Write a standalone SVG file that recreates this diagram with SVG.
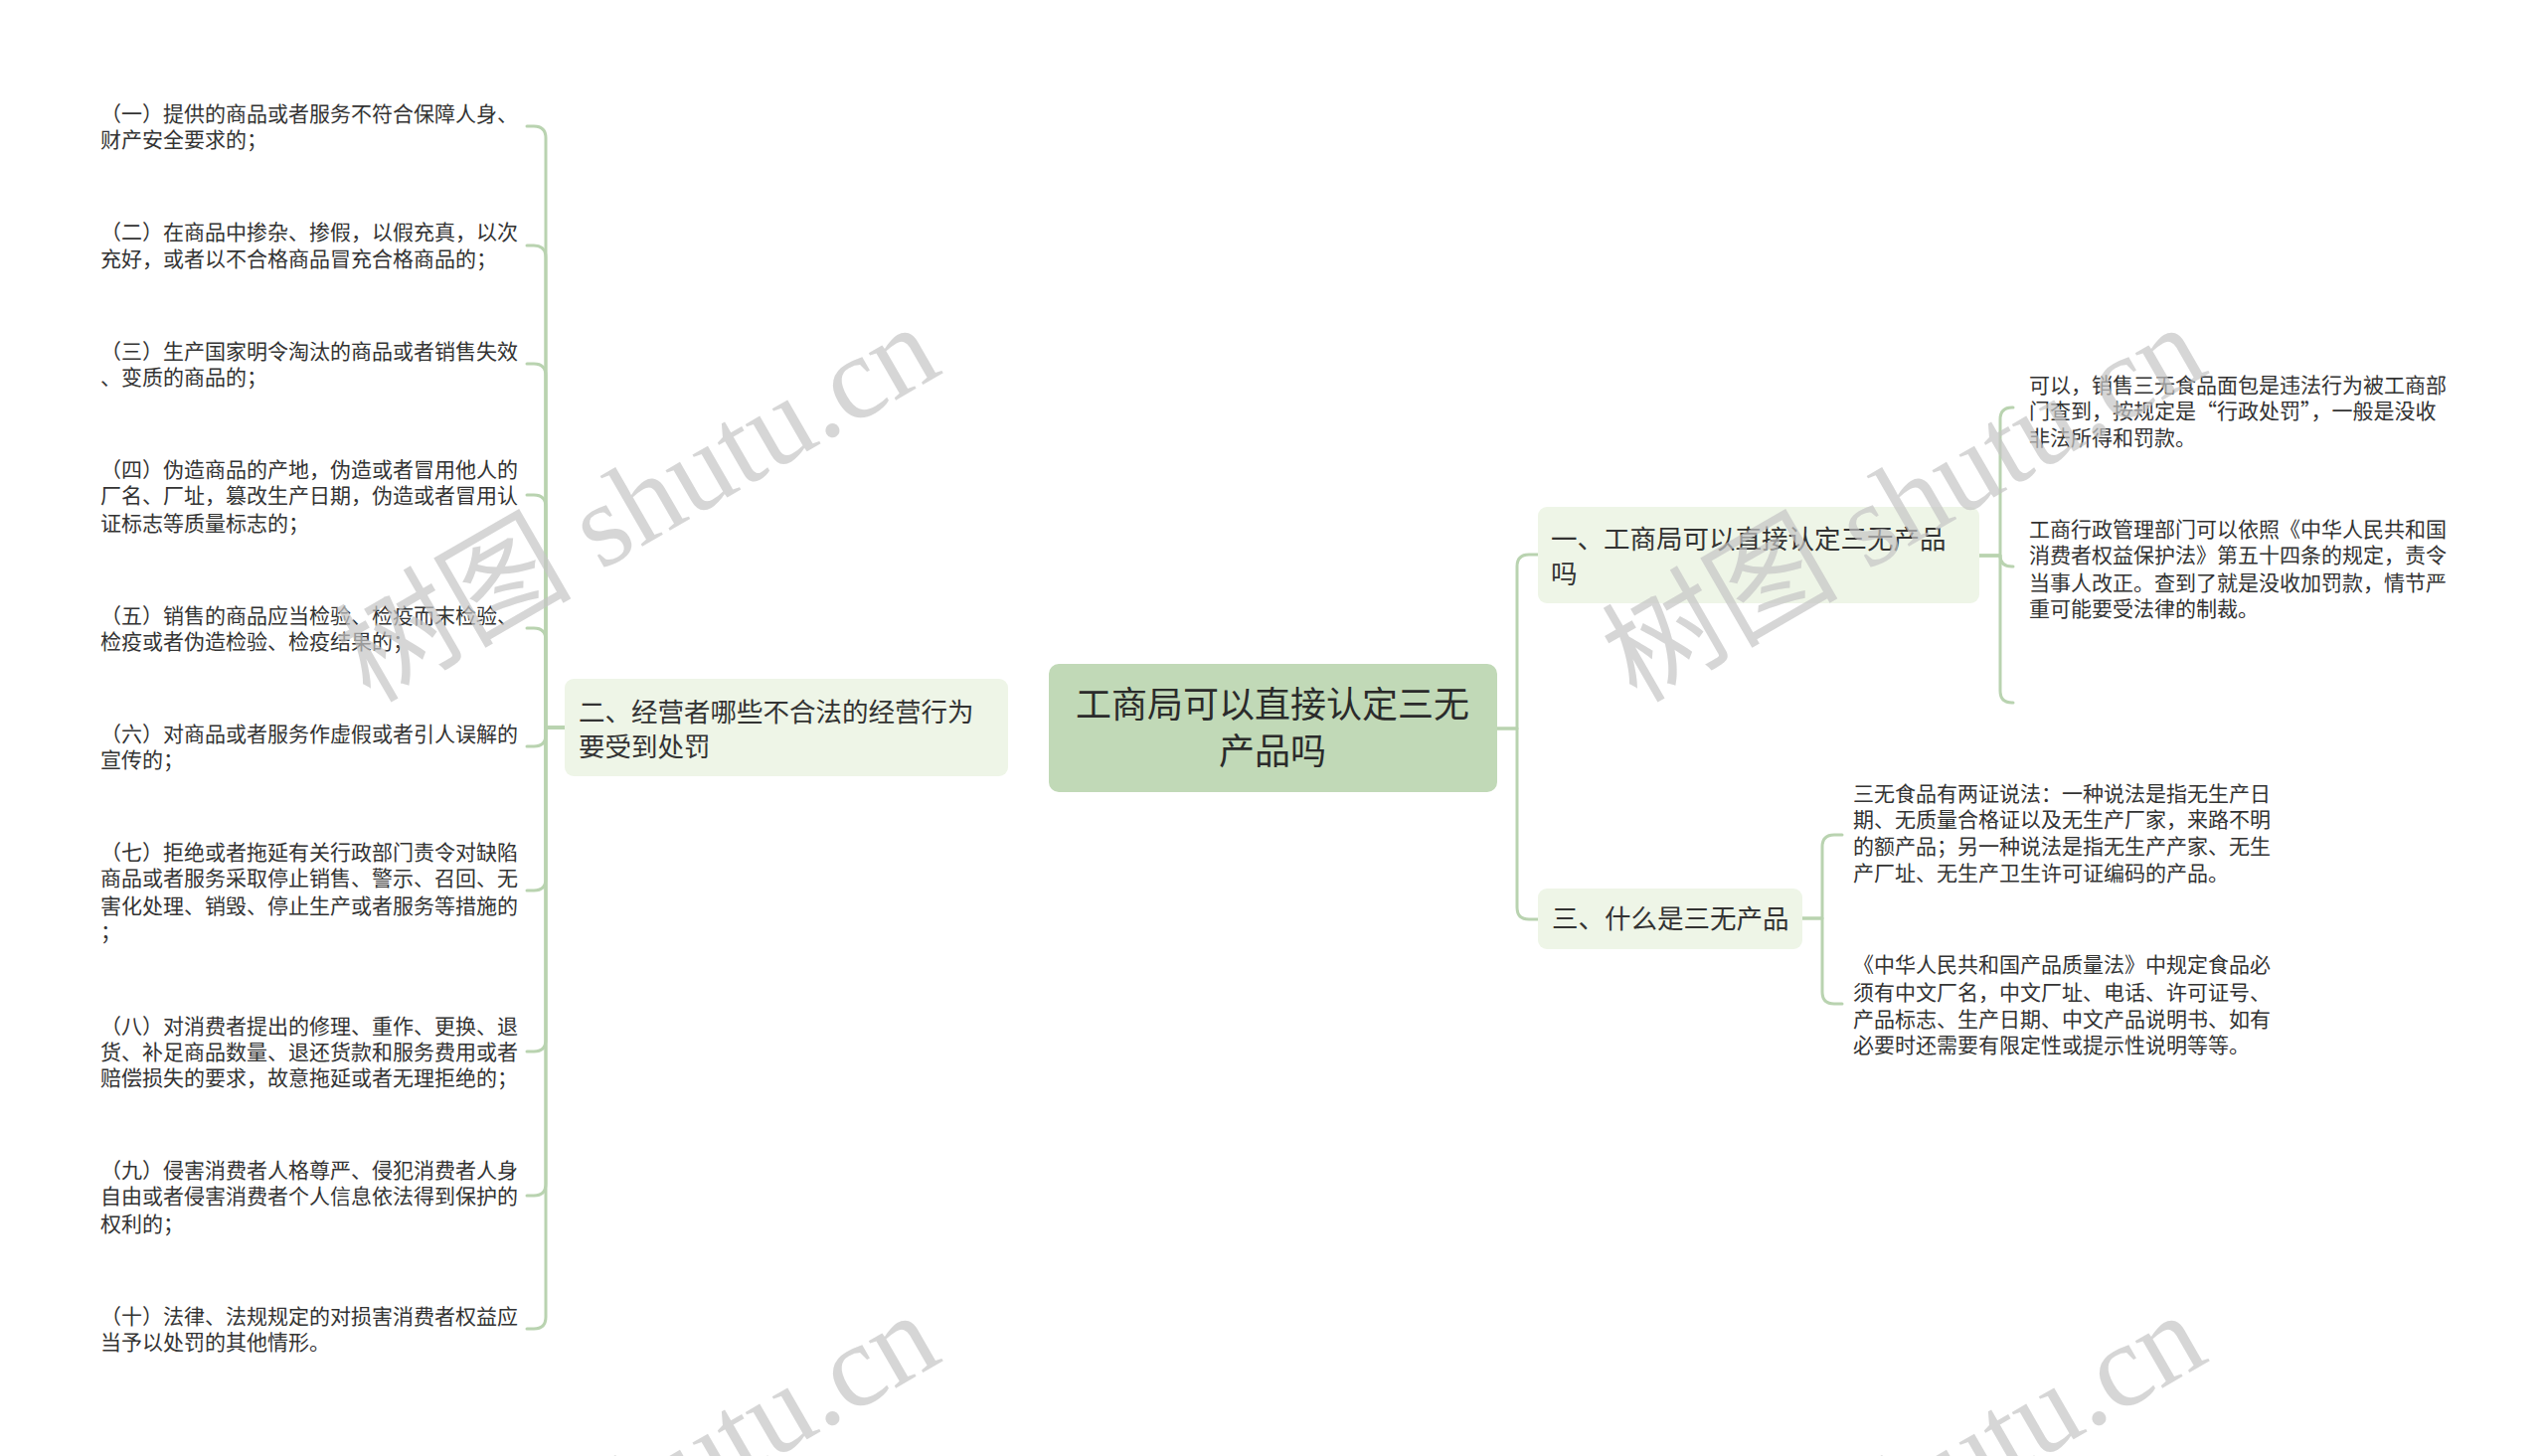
<svg xmlns="http://www.w3.org/2000/svg" width="2560" height="1465" viewBox="0 0 2560 1465">
<style>
.wm{font-family:"Liberation Serif","Noto Sans CJK SC",serif;font-size:119px;fill:#c4c4c4;fill-opacity:0.7}
.lf{font-family:"Noto Sans CJK SC",sans-serif;font-size:21px;fill:#333}
.br{font-family:"Noto Sans CJK SC",sans-serif;font-size:26.5px;fill:#333}
.ct{font-family:"Noto Sans CJK SC",sans-serif;font-size:36px;fill:#2b2b2b}
.cn{fill:none;stroke:#b9d3b0;stroke-width:3;stroke-linecap:round;stroke-linejoin:round}
.bbox{fill:#eef5e7}
</style>
<rect width="2560" height="1465" fill="#ffffff"/>
<g id="connectors" class="cn">
<path d="M568 732H549V139Q549 127 537 127H530"/>
<path d="M568 732H549V259Q549 247 537 247H530"/>
<path d="M568 732H549V378Q549 366 537 366H530"/>
<path d="M568 732H549V510Q549 498 537 498H530"/>
<path d="M568 732H549V644Q549 632 537 632H530"/>
<path d="M568 732H549V739Q549 751 537 751H530"/>
<path d="M568 732H549V884Q549 896 537 896H530"/>
<path d="M568 732H549V1046Q549 1058 537 1058H530"/>
<path d="M568 732H549V1191Q549 1203 537 1203H530"/>
<path d="M568 732H549V1325Q549 1337 537 1337H530"/>
<path d="M1506 733H1526V570Q1526 558 1538 558H1547"/>
<path d="M1506 733H1526V913Q1526 925 1538 925H1547"/>
<path d="M1991 559H2012V422Q2012 410 2024 410H2025"/>
<path d="M1991 559H2012Q2012 570 2024 570H2025"/>
<path d="M1991 559H2012V695Q2012 707 2024 707H2025"/>
<path d="M1813 924H1833V852Q1833 840 1845 840H1853"/>
<path d="M1813 924H1833V998Q1833 1010 1845 1010H1853"/>
</g>
<g id="center">
<rect x="1055" y="668" width="451" height="129" rx="10" fill="#c1d9b7"/>
<text class="ct" x="1280" y="722" text-anchor="middle">工商局可以直接认定三无</text>
<text class="ct" x="1280" y="769" text-anchor="middle">产品吗</text>
</g>
<g id="branch2">
<rect class="bbox" x="568" y="683" width="446" height="98" rx="9"/>
<text class="br" x="582" y="726">二、经营者哪些不合法的经营行为</text>
<text class="br" x="582" y="761">要受到处罚</text>
</g>
<g id="branch1">
<rect class="bbox" x="1547" y="510" width="444" height="97" rx="9"/>
<text class="br" x="1560" y="552">一、工商局可以直接认定三无产品</text>
<text class="br" x="1560" y="587">吗</text>
</g>
<g id="branch3">
<rect class="bbox" x="1547" y="894" width="266" height="61" rx="9"/>
<text class="br" x="1561" y="934">三、什么是三无产品</text>
</g>
<g id="leaf1"><text class="lf" x="101" y="122">（一）提供的商品或者服务不符合保障人身、</text><text class="lf" x="101" y="148">财产安全要求的；</text></g>
<g id="leaf2"><text class="lf" x="101" y="241">（二）在商品中掺杂、掺假，以假充真，以次</text><text class="lf" x="101" y="268">充好，或者以不合格商品冒充合格商品的；</text></g>
<g id="leaf3"><text class="lf" x="101" y="361">（三）生产国家明令淘汰的商品或者销售失效</text><text class="lf" x="101" y="387">、变质的商品的；</text></g>
<g id="leaf4"><text class="lf" x="101" y="480">（四）伪造商品的产地，伪造或者冒用他人的</text><text class="lf" x="101" y="506">厂名、厂址，篡改生产日期，伪造或者冒用认</text><text class="lf" x="101" y="534">证标志等质量标志的；</text></g>
<g id="leaf5"><text class="lf" x="101" y="627">（五）销售的商品应当检验、检疫而末检验、</text><text class="lf" x="101" y="653">检疫或者伪造检验、检疫结果的；</text></g>
<g id="leaf6"><text class="lf" x="101" y="746">（六）对商品或者服务作虚假或者引人误解的</text><text class="lf" x="101" y="772">宣传的；</text></g>
<g id="leaf7"><text class="lf" x="101" y="865">（七）拒绝或者拖延有关行政部门责令对缺陷</text><text class="lf" x="101" y="891">商品或者服务采取停止销售、警示、召回、无</text><text class="lf" x="101" y="919">害化处理、销毁、停止生产或者服务等措施的</text><text class="lf" x="101" y="945">；</text></g>
<g id="leaf8"><text class="lf" x="101" y="1040">（八）对消费者提出的修理、重作、更换、退</text><text class="lf" x="101" y="1066">货、补足商品数量、退还货款和服务费用或者</text><text class="lf" x="101" y="1092">赔偿损失的要求，故意拖延或者无理拒绝的；</text></g>
<g id="leaf9"><text class="lf" x="101" y="1185">（九）侵害消费者人格尊严、侵犯消费者人身</text><text class="lf" x="101" y="1211">自由或者侵害消费者个人信息依法得到保护的</text><text class="lf" x="101" y="1239">权利的；</text></g>
<g id="leaf10"><text class="lf" x="101" y="1332">（十）法律、法规规定的对损害消费者权益应</text><text class="lf" x="101" y="1358">当予以处罚的其他情形。</text></g>
<g id="leaf11"><text class="lf" x="2041" y="395">可以，销售三无食品面包是违法行为被工商部</text><text class="lf" x="2041" y="421">门查到，按规定是“行政处罚”，一般是没收</text><text class="lf" x="2041" y="448">非法所得和罚款。</text></g>
<g id="leaf12"><text class="lf" x="2041" y="540">工商行政管理部门可以依照《中华人民共和国</text><text class="lf" x="2041" y="566">消费者权益保护法》第五十四条的规定，责令</text><text class="lf" x="2041" y="594">当事人改正。查到了就是没收加罚款，情节严</text><text class="lf" x="2041" y="620">重可能要受法律的制裁。</text></g>
<g id="leaf31"><text class="lf" x="1864" y="806">三无食品有两证说法：一种说法是指无生产日</text><text class="lf" x="1864" y="832">期、无质量合格证以及无生产厂家，来路不明</text><text class="lf" x="1864" y="859">的额产品；另一种说法是指无生产产家、无生</text><text class="lf" x="1864" y="886">产厂址、无生产卫生许可证编码的产品。</text></g>
<g id="leaf32"><text class="lf" x="1864" y="978">《中华人民共和国产品质量法》中规定食品必</text><text class="lf" x="1864" y="1006">须有中文厂名，中文厂址、电话、许可证号、</text><text class="lf" x="1864" y="1033">产品标志、生产日期、中文产品说明书、如有</text><text class="lf" x="1864" y="1059">必要时还需要有限定性或提示性说明等等。</text></g>
<g id="watermarks">
<text class="wm" transform="translate(372 708) rotate(-30)">树图 shutu.cn</text>
<text class="wm" transform="translate(1646 708) rotate(-30)">树图 shutu.cn</text>
<text class="wm" transform="translate(372 1702) rotate(-30)">树图 shutu.cn</text>
<text class="wm" transform="translate(1646 1702) rotate(-30)">树图 shutu.cn</text>
</g>
</svg>
